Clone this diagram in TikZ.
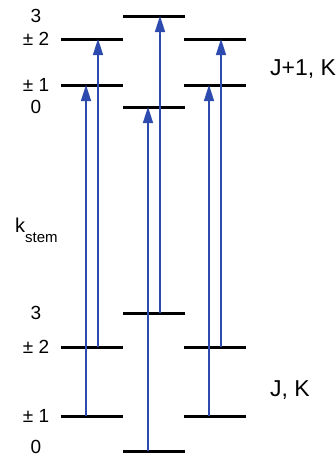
\documentclass[tikz,border=0pt]{standalone}
\usepackage{fontspec}
\setmainfont{Liberation Sans}
\usetikzlibrary{positioning, arrows.meta}
\definecolor{transblue}{RGB}{45,75,175}

\begin{document}
\begin{tikzpicture}[
					x=1pt, y=-1pt,
					level/.style={
						rectangle,
						fill=black,
						inner sep=0pt,
						minimum width=62pt,
						minimum height=3pt
					},
					klabel/.style={
						inner sep=0pt,
						text height=13.6pt,
						text depth=0pt,
						font=\fontsize{19}{22}\selectfont
					},
					jlabel/.style={
						anchor=west,
						inner sep=0pt,
						text height=16pt,
						text depth=0pt,
						font=\fontsize{23}{27}\selectfont
					},
					trans/.style={
						-{Triangle[length=16pt, width=10pt]},
						line width=1.6pt,
						color=transblue
					}
					]
					\useasboundingbox (0,0) rectangle (336,458);
					
					% Upper levels (J+1, K)
					\node (upL2) [level] at (92, 39) {};
					\node (upL1) [level] at (92, 85) {};
					\node (upM3) [level] at (154, 16) {};
					\node (upM0) [level] at (154, 107) {};
					\node (upR2) [level] at (215, 39) {};
					\node (upR1) [level] at (215, 85) {};
					
					% Lower levels (J, K)
					\node (loL2) [level] at (92, 347) {};
					\node (loL1) [level] at (92, 416) {};
					\node (loM3) [level] at (154, 313) {};
					\node (loM0) [level] at (154, 451) {};
					\node (loR2) [level] at (215, 347) {};
					\node (loR1) [level] at (215, 416) {};
					
					% K labels
					\node (kup3) [klabel] at (36, 16) {3};
					\node (kup2) [klabel] at (36, 39) {± 2};
					\node (kup1) [klabel] at (36, 85) {± 1};
					\node (kup0) [klabel] at (36, 107) {0};
					\node (klo3) [klabel] at (36, 313) {3};
					\node (klo2) [klabel] at (36, 347) {± 2};
					\node (klo1) [klabel] at (36, 416) {± 1};
					\node (klo0) [klabel] at (36, 447) {0};
					\node (kstem) [inner sep=0pt, anchor=base west, font=\fontsize{20}{24}\selectfont] at (15, 232) {k\raisebox{-10pt}{\fontsize{15}{18}\selectfont stem}};
					
					% J labels
					\node (jup) [jlabel] at (270, 67) {J+1, K};
					\node (jlo) [jlabel] at (270, 388) {J, K};
					
					% Transitions
					\draw [trans] ([xshift=-6pt]loL1.center) -- ([xshift=-6pt]upL1.center);
					\draw [trans] ([xshift=6pt]loL2.center) -- ([xshift=6pt]upL2.center);
					\draw [trans] ([xshift=-6pt]loM0.center) -- ([xshift=-6pt]upM0.center);
					\draw [trans] ([xshift=6pt]loM3.center) -- ([xshift=6pt]upM3.center);
					\draw [trans] ([xshift=-6pt]loR1.center) -- ([xshift=-6pt]upR1.center);
					\draw [trans] ([xshift=6pt]loR2.center) -- ([xshift=6pt]upR2.center);
					
				\end{tikzpicture}
\end{document}
